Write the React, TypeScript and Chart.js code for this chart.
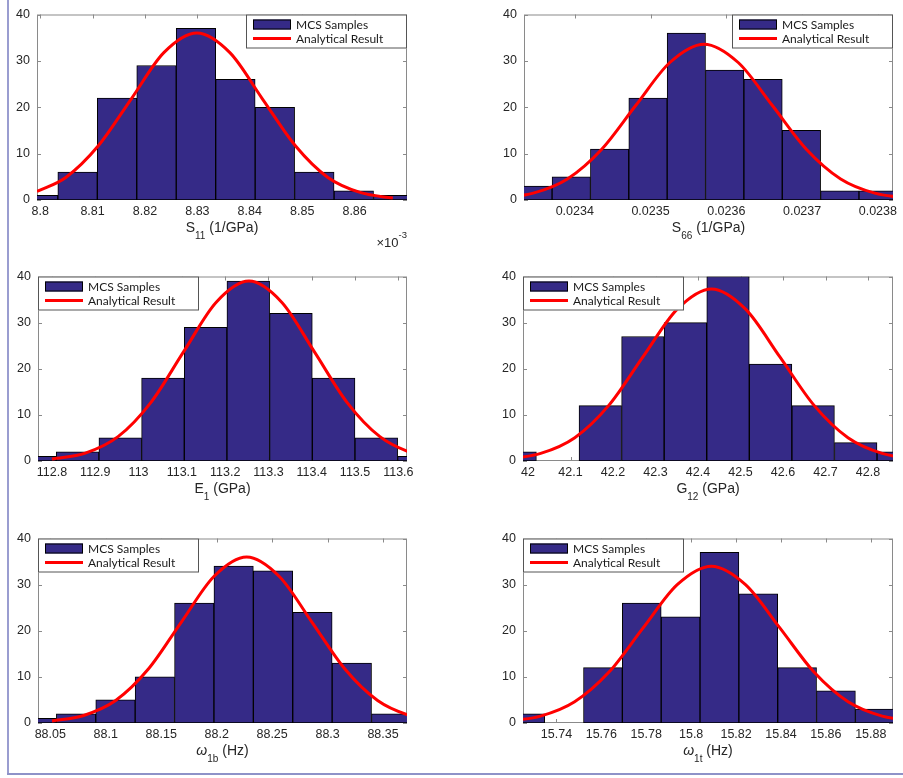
import React, { useEffect, useRef } from 'react';
import { Chart, registerables } from 'chart.js';

Chart.register(...registerables);

// ---------------- data ----------------
const countTicks = [0, 10, 20, 30, 40];
const countTickLabels = ['0', '10', '20', '30', '40'];
const barLabel = 'MCS Samples';
const curveLabel = 'Analytical Result';

// S11 (x 1e-3)
const s11Ticks = [8.8, 8.81, 8.82, 8.83, 8.84, 8.85, 8.86];
const s11TickLabels = ['8.8', '8.81', '8.82', '8.83', '8.84', '8.85', '8.86'];
const s11Range = [8.7994, 8.87];
const s11Bins = [8.79961, 8.80714, 8.81467, 8.8222, 8.82973, 8.83726, 8.84479, 8.85232, 8.85985, 8.86738];
const s11Counts = [1, 6, 22, 29, 37, 26, 20, 6, 2, 1];
const s11CurveX = [8.7994, 8.8049, 8.8111, 8.8174, 8.8236, 8.8299, 8.8362, 8.8424, 8.8487, 8.8549, 8.8612, 8.8673];
const s11CurveY = [1.83, 4.87, 11.69, 21.83, 31.77, 36, 31.77, 21.83, 11.69, 4.87, 1.58, 0.41];

// S66
const s66Ticks = [0.0234, 0.0235, 0.0236, 0.0237, 0.0238];
const s66TickLabels = ['0.0234', '0.0235', '0.0236', '0.0237', '0.0238'];
const s66Range = [0.023333, 0.02382];
const s66Bins = [0.02334474, 0.02339537, 0.023446, 0.02349663, 0.02354726, 0.02359789, 0.02364852, 0.02369915, 0.02374978, 0.02380041];
const s66Counts = [3, 5, 11, 22, 36, 28, 26, 15, 2, 2];
const s66CurveX = [0.0233001, 0.0233452, 0.0233903, 0.0234353, 0.0234804, 0.0235255, 0.0235706, 0.0236157, 0.0236608, 0.0237059, 0.0237509, 0.023796, 0.0238411];
const s66CurveY = [0.37, 1.48, 4.55, 10.91, 20.38, 29.65, 33.6, 29.65, 20.38, 10.91, 4.55, 1.48, 0.37];

// E1
const e1Ticks = [112.8, 112.9, 113, 113.1, 113.2, 113.3, 113.4, 113.5, 113.6];
const e1TickLabels = ['112.8', '112.9', '113', '113.1', '113.2', '113.3', '113.4', '113.5', '113.6'];
const e1Range = [112.7677, 113.62];
const e1Bins = [112.7606, 112.85916, 112.95772, 113.05628, 113.15484, 113.2534, 113.35196, 113.45052, 113.54908, 113.64764];
const e1Counts = [1, 2, 5, 18, 29, 39, 32, 18, 5, 1];
const e1CurveX = [112.8, 112.877, 112.9526, 113.0282, 113.1038, 113.1794, 113.255, 113.3306, 113.4062, 113.4818, 113.5574, 113.633, 113.7086];
const e1CurveY = [0.42, 1.71, 5.28, 12.66, 23.65, 34.42, 39, 34.42, 23.65, 12.66, 5.28, 1.71, 0.43];

// G12
const g12Ticks = [42, 42.1, 42.2, 42.3, 42.4, 42.5, 42.6, 42.7, 42.8];
const g12TickLabels = ['42', '42.1', '42.2', '42.3', '42.4', '42.5', '42.6', '42.7', '42.8'];
const g12Range = [41.9882, 42.8588];
const g12Bins = [41.9697, 42.06988, 42.17006, 42.27024, 42.37042, 42.4706, 42.57078, 42.67096, 42.77114, 42.87132];
const g12Counts = [2, 0, 12, 27, 30, 40, 21, 12, 4, 2];
const g12CurveX = [41.9494, 42.0298, 42.1101, 42.1905, 42.2708, 42.3512, 42.4315, 42.5119, 42.5922, 42.6726, 42.7529, 42.8333, 42.9136];
const g12CurveY = [0.41, 1.64, 5.05, 12.11, 22.62, 32.92, 37.3, 32.92, 22.62, 12.11, 5.05, 1.64, 0.41];

// omega 1b
const w1bTicks = [88.05, 88.1, 88.15, 88.2, 88.25, 88.3, 88.35];
const w1bTickLabels = ['88.05', '88.1', '88.15', '88.2', '88.25', '88.3', '88.35'];
const w1bRange = [88.0389, 88.3716];
const w1bBins = [88.0377, 88.07322, 88.10874, 88.14426, 88.17978, 88.2153, 88.25082, 88.28634, 88.32186, 88.35738];
const w1bCounts = [1, 2, 5, 10, 26, 34, 33, 24, 13, 2];
const w1bCurveX = [88.0515, 88.0794, 88.1089, 88.1384, 88.168, 88.1975, 88.227, 88.2565, 88.286, 88.3156, 88.3451, 88.3746, 88.4041];
const w1bCurveY = [0.44, 1.58, 4.87, 11.69, 21.83, 31.77, 36, 31.77, 21.83, 11.69, 4.87, 1.58, 0.4];

// omega 1t
const w1tTicks = [15.74, 15.76, 15.78, 15.8, 15.82, 15.84, 15.86, 15.88];
const w1tTickLabels = ['15.74', '15.76', '15.78', '15.8', '15.82', '15.84', '15.86', '15.88'];
const w1tRange = [15.7251, 15.8899];
const w1tBins = [15.7261, 15.7434, 15.7607, 15.778, 15.7953, 15.8126, 15.8299, 15.8472, 15.8645, 15.8818];
const w1tCounts = [2, 0, 12, 26, 23, 37, 28, 12, 7, 3];
const w1tCurveX = [15.7177, 15.7329, 15.7481, 15.7634, 15.7786, 15.7938, 15.809, 15.8242, 15.8395, 15.8547, 15.8699, 15.8851, 15.9004];
const w1tCurveY = [0.38, 1.49, 4.6, 11.04, 20.62, 30.0, 34, 30.0, 20.62, 11.04, 4.6, 1.49, 0.38];

// ---------------- styles / layout ----------------
const FONT = "'Liberation Sans', Arial, Helvetica, sans-serif";
const LEGEND_FONT = "Lato, 'Liberation Sans', sans-serif";
const BAR_COLOR = '#352a87';
const RED = '#ff0000';
const TEXT = '#262626';
const FRAME = '#8a8a8a';
const LEGEND_EDGE = '#555555';

type Seg = { t: string; sub?: boolean; sup?: boolean; italic?: boolean };

type Spec = {
  ticks: number[];
  tickLabels: string[];
  range: number[];
  bins: number[];
  counts: number[];
  curveX: number[];
  curveY: number[];
  title: Seg[];
  exponent?: Seg[];
  legendSide: 'left' | 'right';
  cell: number[]; // left, top, width, height of canvas
  box: number[]; // plot area left, top, right, bottom (page px)
};

const panels: Spec[] = [
  {
    ticks: s11Ticks, tickLabels: s11TickLabels, range: s11Range, bins: s11Bins, counts: s11Counts,
    curveX: s11CurveX, curveY: s11CurveY,
    title: [{ t: 'S' }, { t: '11', sub: true }, { t: ' (1/GPa)' }],
    exponent: [{ t: '\u00d710' }, { t: '-3', sup: true }],
    legendSide: 'right', cell: [0, 0, 451, 262], box: [37, 11, 407, 200],
  },
  {
    ticks: s66Ticks, tickLabels: s66TickLabels, range: s66Range, bins: s66Bins, counts: s66Counts,
    curveX: s66CurveX, curveY: s66CurveY,
    title: [{ t: 'S' }, { t: '66', sub: true }, { t: ' (1/GPa)' }],
    legendSide: 'right', cell: [452, 0, 451, 262], box: [524, 11, 893, 200],
  },
  {
    ticks: e1Ticks, tickLabels: e1TickLabels, range: e1Range, bins: e1Bins, counts: e1Counts,
    curveX: e1CurveX, curveY: e1CurveY,
    title: [{ t: 'E' }, { t: '1', sub: true }, { t: ' (GPa)' }],
    legendSide: 'left', cell: [0, 262, 451, 262], box: [38, 273, 407, 461],
  },
  {
    ticks: g12Ticks, tickLabels: g12TickLabels, range: g12Range, bins: g12Bins, counts: g12Counts,
    curveX: g12CurveX, curveY: g12CurveY,
    title: [{ t: 'G' }, { t: '12', sub: true }, { t: ' (GPa)' }],
    legendSide: 'left', cell: [452, 262, 451, 262], box: [523, 273, 893, 461],
  },
  {
    ticks: w1bTicks, tickLabels: w1bTickLabels, range: w1bRange, bins: w1bBins, counts: w1bCounts,
    curveX: w1bCurveX, curveY: w1bCurveY,
    title: [{ t: '\u03c9', italic: true }, { t: '1b', sub: true }, { t: ' (Hz)' }],
    legendSide: 'left', cell: [0, 524, 451, 254], box: [38, 535, 407, 723],
  },
  {
    ticks: w1tTicks, tickLabels: w1tTickLabels, range: w1tRange, bins: w1tBins, counts: w1tCounts,
    curveX: w1tCurveX, curveY: w1tCurveY,
    title: [{ t: '\u03c9', italic: true }, { t: '1t', sub: true }, { t: ' (Hz)' }],
    legendSide: 'left', cell: [452, 524, 451, 254], box: [523, 535, 893, 723],
  },
];

function drawRich(
  ctx: CanvasRenderingContext2D, segs: Seg[], x: number, baseline: number,
  align: 'center' | 'right', mainPx: number, smallPx: number, drop: number, rise: number,
) {
  const fontFor = (s: Seg) => `${s.italic ? 'italic ' : ''}${s.sub || s.sup ? smallPx : mainPx}px ${FONT}`;
  let total = 0;
  const widths = segs.map((s) => {
    ctx.font = fontFor(s);
    const w = ctx.measureText(s.t).width;
    total += w;
    return w;
  });
  let cx = align === 'center' ? x - total / 2 : x - total;
  ctx.textAlign = 'left';
  ctx.textBaseline = 'alphabetic';
  segs.forEach((s, i) => {
    ctx.font = fontFor(s);
    const dy = s.sub ? drop : s.sup ? -rise : 0;
    ctx.fillText(s.t, cx, baseline + dy);
    cx += widths[i];
  });
}

function Panel({ spec }: { spec: Spec }) {
  const ref = useRef<HTMLCanvasElement | null>(null);

  useEffect(() => {
    const canvas = ref.current;
    if (!canvas) return;
    const [cl, ct, cw, ch] = spec.cell;
    const [l, t, r, b] = spec.box;

    const framePlugin = {
      id: 'frame',
      beforeDatasetsDraw(chart: any) {
        const { ctx, chartArea: a, scales } = chart;
        ctx.save();
        ctx.strokeStyle = FRAME;
        ctx.lineWidth = 1;
        ctx.strokeRect(a.left + 0.5, a.top + 0.5, a.right - a.left - 1, a.bottom - a.top - 1);
        const tl = 4;
        ctx.beginPath();
        scales.x.ticks.forEach((tk: any) => {
          const px = Math.round(scales.x.getPixelForValue(tk.value)) + 0.5;
          ctx.moveTo(px, a.bottom);
          ctx.lineTo(px, a.bottom - tl);
          ctx.moveTo(px, a.top);
          ctx.lineTo(px, a.top + tl);
        });
        scales.y.ticks.forEach((tk: any) => {
          const py = Math.round(scales.y.getPixelForValue(tk.value)) + 0.5;
          ctx.moveTo(a.left, py);
          ctx.lineTo(a.left + tl, py);
          ctx.moveTo(a.right, py);
          ctx.lineTo(a.right - tl, py);
        });
        ctx.stroke();
        ctx.restore();
      },
    };

    const legendPlugin = {
      id: 'boxLegend',
      afterDatasetsDraw(chart: any) {
        const { ctx, chartArea: a } = chart;
        const w = 161;
        const h = 34;
        const x0 = spec.legendSide === 'right' ? a.right - w : a.left;
        const y0 = a.top;
        ctx.save();
        ctx.fillStyle = '#ffffff';
        ctx.fillRect(x0, y0, w, h);
        ctx.strokeStyle = LEGEND_EDGE;
        ctx.lineWidth = 1;
        ctx.strokeRect(x0 + 0.5, y0 + 0.5, w - 1, h - 1);
        ctx.fillStyle = BAR_COLOR;
        ctx.fillRect(x0 + 7, y0 + 5, 38, 10);
        ctx.strokeStyle = '#000000';
        ctx.strokeRect(x0 + 7.5, y0 + 5.5, 37, 9);
        ctx.strokeStyle = RED;
        ctx.lineWidth = 3;
        ctx.beginPath();
        ctx.moveTo(x0 + 7, y0 + 24);
        ctx.lineTo(x0 + 45, y0 + 24);
        ctx.stroke();
        ctx.fillStyle = '#1a1a1a';
        ctx.font = `12px ${LEGEND_FONT}`;
        ctx.textAlign = 'left';
        ctx.textBaseline = 'middle';
        ctx.fillText(chart.data.datasets[1].label, x0 + 50, y0 + 10.5);
        ctx.fillText(chart.data.datasets[0].label, x0 + 50, y0 + 24.5);
        ctx.restore();
      },
    };

    const titlePlugin = {
      id: 'axisTitle',
      afterDraw(chart: any) {
        const { ctx, chartArea: a } = chart;
        ctx.save();
        ctx.fillStyle = TEXT;
        drawRich(ctx, spec.title, (a.left + a.right) / 2, a.bottom + 32, 'center', 14, 10, 7, 0);
        if (spec.exponent) {
          drawRich(ctx, spec.exponent, a.right, a.bottom + 47, 'right', 13, 9.5, 0, 9);
        }
        ctx.restore();
      },
    };

    const chart = new Chart(canvas, {
      type: 'bar',
      data: {
        datasets: [
          {
            type: 'line',
            label: curveLabel,
            data: spec.curveX.map((x, i) => ({ x, y: spec.curveY[i] })),
            borderColor: RED,
            borderWidth: 3,
            pointRadius: 0,
            fill: false,
            cubicInterpolationMode: 'monotone',
            clip: 0,
            order: 0,
          } as any,
          {
            type: 'bar',
            label: barLabel,
            data: spec.bins.map((x, i) => ({ x, y: spec.counts[i] })),
            backgroundColor: BAR_COLOR,
            borderColor: '#000000',
            borderWidth: 1,
            borderSkipped: false,
            barPercentage: 1,
            categoryPercentage: 1,
            clip: 0,
            order: 1,
          } as any,
        ],
      },
      options: {
        animation: false,
        responsive: false,
        maintainAspectRatio: false,
        events: [],
        layout: { padding: { left: 0, top: t - ct, right: cl + cw - r, bottom: 0 } },
        plugins: { legend: { display: false }, tooltip: { enabled: false } },
        scales: {
          x: {
            type: 'linear',
            min: spec.range[0],
            max: spec.range[1],
            bounds: 'data',
            offset: false,
            afterBuildTicks: (s: any) => {
              s.ticks = spec.ticks.map((v) => ({ value: v }));
            },
            ticks: {
              autoSkip: false,
              maxRotation: 0,
              minRotation: 0,
              padding: 4,
              color: TEXT,
              font: { family: FONT, size: 12.5 },
              callback: (_v: any, i: number) => spec.tickLabels[i],
            },
            grid: { display: false, drawTicks: false, offset: false },
            border: { display: false },
            afterFit: (s: any) => {
              s.height = ct + ch - b;
              s.paddingLeft = 0;
              s.paddingRight = 0;
            },
          } as any,
          y: {
            type: 'linear',
            min: 0,
            max: 40,
            afterBuildTicks: (s: any) => {
              s.ticks = countTicks.map((v) => ({ value: v }));
            },
            ticks: {
              padding: 7,
              color: TEXT,
              font: { family: FONT, size: 12.5 },
              callback: (_v: any, i: number) => countTickLabels[i],
            },
            grid: { display: false, drawTicks: false },
            border: { display: false },
            afterFit: (s: any) => {
              s.width = l - cl;
            },
          } as any,
        },
      },
      plugins: [framePlugin, legendPlugin, titlePlugin],
    } as any);

    return () => chart.destroy();
  }, [spec]);

  const [cl, ct, cw, ch] = spec.cell;
  return (
    <canvas
      ref={ref}
      width={cw}
      height={ch}
      style={{ position: 'absolute', left: cl, top: ct, width: cw, height: ch }}
    />
  );
}

export default function App() {
  return (
    <div
      style={{
        position: 'absolute', left: 0, top: 0, width: 903, height: 778,
        overflow: 'hidden', background: '#ffffff',
      }}
    >
      {panels.map((p, i) => (
        <Panel key={i} spec={p} />
      ))}
      <div style={{ position: 'absolute', left: 7, top: 0, width: 2, height: 775, background: '#9a9dd0' }} />
      <div style={{ position: 'absolute', left: 7, top: 773, width: 896, height: 2, background: '#8e92c8' }} />
    </div>
  );
}
